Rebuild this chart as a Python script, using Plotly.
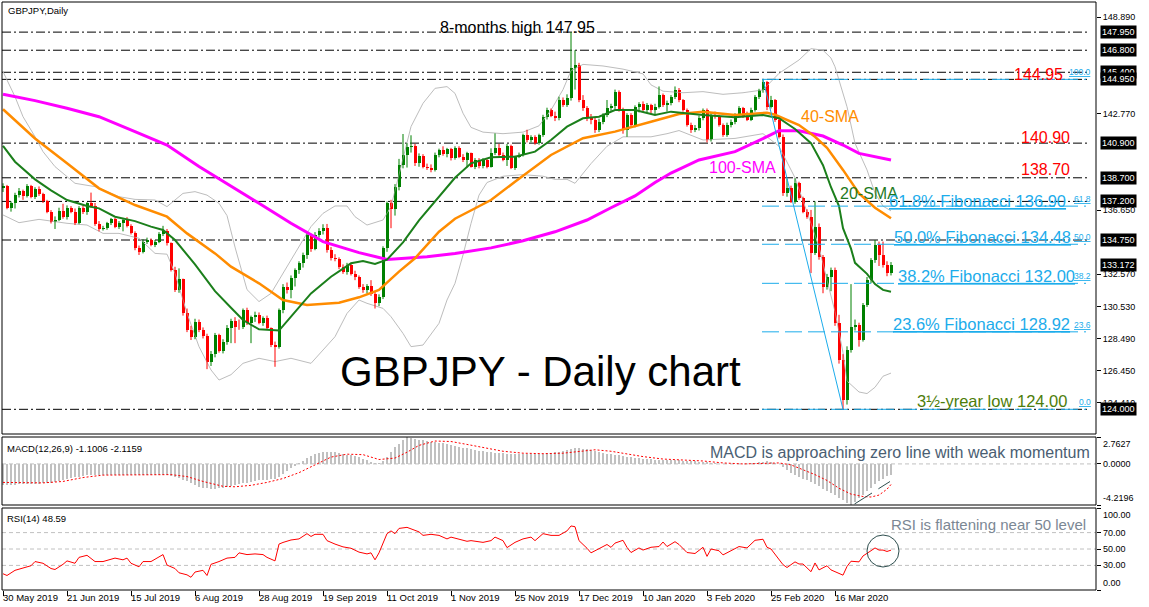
import plotly.graph_objects as go

W, H = 1149, 607
FONT = "Liberation Sans, Arial, sans-serif"

# ---------------- data ----------------
chart_title = "GBPJPY,Daily"
big_title = "GBPJPY - Daily chart"
date_labels = ["30 May 2019", "21 Jun 2019", "15 Jul 2019", "6 Aug 2019", "28 Aug 2019",
               "19 Sep 2019", "11 Oct 2019", "1 Nov 2019", "25 Nov 2019", "17 Dec 2019",
               "10 Jan 2020", "3 Feb 2020", "25 Feb 2020", "16 Mar 2020"]
date_label_bars = [0, 16, 32, 48, 64, 80, 96, 112, 128, 144, 160, 176, 192, 208]

opens = [
    138.05, 138.18, 136.76, 137.10, 137.60, 137.85, 137.55, 138.18, 137.50, 138.00,
    137.65, 137.20, 136.55, 135.90, 136.05, 136.60, 136.20, 136.76, 136.55, 135.85,
    136.76, 136.50, 137.08, 136.90, 135.77, 135.43, 135.50, 135.82, 136.06, 135.60,
    135.85, 136.00, 135.65, 135.18, 134.22, 134.00, 134.65, 134.75, 134.45, 134.65,
    135.13, 135.34, 134.54, 132.85, 131.58, 132.25, 130.09, 129.04, 128.60, 129.56,
    129.04, 128.65, 127.03, 127.50, 128.72, 127.70, 128.30, 129.14, 129.60, 129.25,
    129.20, 130.30, 129.46, 129.88, 130.00, 129.50, 129.78, 129.15, 128.08, 127.95,
    130.30, 131.79, 131.58, 132.32, 132.85, 133.27, 133.80, 135.07, 134.20, 135.07,
    135.30, 135.49, 134.10, 133.60, 133.55, 133.05, 132.74, 133.15, 132.62, 132.40,
    131.79, 131.55, 131.82, 131.30, 130.73, 131.15, 134.22, 137.08, 136.75, 138.14,
    139.51, 140.15, 140.63, 140.72, 139.62, 140.10, 139.40, 139.33, 139.22, 140.15,
    140.45, 140.20, 140.50, 139.95, 140.57, 140.04, 139.83, 140.25, 139.41, 139.85,
    139.45, 139.83, 139.41, 140.25, 140.57, 140.15, 139.83, 140.75, 139.30, 140.04,
    140.15, 141.42, 141.10, 141.30, 140.89, 141.42, 142.58, 143.00, 142.65, 142.48,
    143.64, 143.35, 143.75, 145.65, 145.86, 143.64, 143.11, 142.48, 142.40, 141.74,
    142.27, 142.69, 143.11, 143.25, 144.17, 143.05, 141.74, 142.69, 142.05, 143.22,
    143.40, 143.01, 143.32, 143.01, 143.22, 143.96, 143.32, 143.43, 143.85, 144.27,
    143.64, 143.01, 142.05, 141.74, 141.84, 142.48, 143.01, 141.10, 142.69, 142.60,
    142.05, 141.42, 142.05, 142.26, 142.69, 143.11, 142.60, 142.40, 143.01, 143.85,
    144.28, 144.80, 143.20, 143.64, 142.37, 141.32, 137.71, 138.03, 137.18, 138.35,
    137.40, 136.55, 136.23, 133.91, 135.60, 133.69, 131.79, 132.42, 132.85, 129.46,
    127.13, 124.59, 127.77, 129.24, 129.35, 128.40, 130.62, 132.20, 133.48, 134.43,
    133.80, 133.16, 132.63]
highs = [
    138.35, 138.25, 137.20, 137.75, 138.05, 137.95, 138.30, 138.25, 138.10, 138.15,
    137.75, 137.30, 136.65, 136.25, 136.80, 137.05, 136.95, 136.90, 136.75, 136.90,
    136.95, 137.15, 137.76, 137.10, 135.95, 135.65, 135.90, 136.15, 136.15, 135.95,
    136.15, 136.20, 135.75, 135.30, 134.40, 134.80, 134.90, 134.85, 134.75, 135.25,
    135.65, 135.45, 134.60, 133.05, 132.95, 132.30, 130.40, 129.30, 129.75, 129.70,
    129.20, 128.80, 127.70, 128.85, 128.80, 128.45, 129.35, 129.75, 129.85, 129.70,
    130.40, 130.45, 129.95, 130.20, 130.15, 129.90, 129.95, 129.20, 128.30, 130.40,
    131.95, 132.05, 132.50, 132.95, 133.40, 133.95, 135.20, 135.15, 135.25, 135.50,
    135.75, 135.77, 134.30, 133.85, 133.65, 133.20, 133.30, 133.25, 132.80, 132.50,
    131.95, 131.95, 132.20, 131.45, 131.30, 134.35, 137.20, 137.30, 138.30, 139.90,
    141.48, 140.90, 141.40, 140.85, 140.25, 140.20, 139.60, 139.55, 140.30, 140.55,
    140.70, 140.60, 140.60, 140.70, 140.70, 140.20, 140.35, 140.30, 139.95, 139.95,
    139.95, 139.90, 140.57, 141.52, 140.85, 140.30, 140.85, 140.80, 140.10, 140.30,
    141.50, 141.75, 141.40, 141.40, 141.50, 142.70, 143.15, 143.10, 142.90, 143.85,
    143.80, 144.00, 147.95, 146.80, 146.00, 143.95, 143.25, 142.75, 142.50, 142.45,
    142.80, 143.64, 143.40, 144.30, 144.25, 143.15, 142.80, 142.80, 143.30, 143.50,
    143.55, 143.45, 143.40, 143.40, 144.50, 144.05, 143.60, 143.95, 144.50, 144.40,
    143.70, 143.10, 142.20, 142.05, 142.65, 143.10, 143.10, 142.85, 142.90, 142.70,
    142.15, 142.20, 142.40, 142.80, 143.25, 143.20, 142.90, 143.15, 143.95, 144.35,
    144.95, 144.85, 143.90, 143.70, 142.50, 141.45, 138.65, 138.20, 138.67, 138.45,
    137.50, 136.70, 136.66, 137.20, 135.80, 133.80, 132.60, 133.00, 133.00, 130.00,
    127.50, 128.00, 131.95, 129.70, 129.50, 130.75, 132.40, 133.60, 134.75, 134.65,
    134.65, 133.40, 133.35]
lows = [
    137.80, 136.70, 136.55, 136.75, 137.45, 137.30, 137.45, 137.40, 137.35, 137.55,
    137.10, 136.45, 135.80, 135.45, 135.95, 136.10, 136.05, 136.45, 135.70, 135.75,
    136.40, 136.35, 136.80, 135.65, 135.30, 135.35, 135.40, 135.70, 135.50, 135.45,
    135.30, 135.55, 135.10, 134.10, 133.80, 133.90, 134.50, 134.35, 134.30, 134.55,
    135.00, 134.40, 132.75, 131.45, 131.40, 129.95, 128.90, 128.40, 128.45, 128.90,
    128.50, 126.55, 126.75, 127.30, 127.60, 127.55, 128.10, 128.20, 128.20, 129.05,
    129.10, 129.35, 128.20, 129.55, 129.40, 129.30, 129.05, 127.95, 126.70, 127.85,
    130.10, 131.35, 131.05, 131.80, 132.60, 133.00, 133.55, 134.00, 134.10, 134.90,
    135.10, 133.95, 133.45, 133.40, 132.90, 132.60, 132.55, 132.50, 132.20, 131.65,
    131.40, 131.35, 131.20, 130.40, 130.55, 131.00, 134.00, 135.50, 136.30, 137.90,
    139.30, 139.35, 140.30, 139.45, 139.40, 139.30, 139.20, 139.05, 139.10, 140.00,
    140.10, 140.00, 139.80, 139.85, 139.95, 139.70, 139.35, 139.35, 139.25, 139.30,
    139.30, 139.30, 139.35, 140.15, 140.05, 139.75, 139.45, 139.25, 139.20, 139.95,
    140.05, 140.95, 140.95, 140.80, 140.80, 141.30, 142.40, 142.55, 142.30, 142.35,
    143.20, 143.20, 143.60, 144.30, 143.50, 142.95, 142.30, 142.10, 141.55, 141.60,
    142.10, 142.55, 142.95, 143.05, 142.90, 141.50, 141.30, 141.95, 141.90, 142.85,
    142.90, 142.85, 142.80, 142.75, 143.10, 143.20, 142.90, 143.30, 143.70, 143.50,
    142.90, 141.95, 141.55, 141.60, 141.70, 142.35, 140.95, 141.00, 142.45, 141.95,
    141.30, 141.30, 141.90, 142.10, 142.55, 142.50, 142.30, 142.30, 142.90, 143.70,
    144.10, 143.00, 143.10, 142.25, 141.20, 137.55, 137.50, 137.10, 137.05, 137.30,
    136.45, 136.10, 132.65, 133.80, 133.50, 131.37, 131.60, 131.50, 129.30, 126.90,
    124.00, 124.30, 127.60, 129.00, 127.98, 128.30, 130.50, 132.00, 133.30, 133.10,
    133.00, 132.45, 132.50]
closes = [
    138.20, 136.76, 137.10, 137.60, 137.85, 137.55, 138.18, 137.50, 138.00, 137.65,
    137.20, 136.55, 135.90, 136.05, 136.60, 136.20, 136.76, 136.55, 135.85, 136.76,
    136.50, 137.08, 136.90, 135.77, 135.43, 135.50, 135.82, 136.06, 135.60, 135.85,
    136.00, 135.65, 135.18, 134.22, 134.00, 134.65, 134.75, 134.45, 134.65, 135.13,
    135.34, 134.54, 132.85, 131.58, 132.25, 130.09, 129.04, 128.60, 129.56, 129.04,
    128.65, 127.03, 127.50, 128.72, 127.70, 128.30, 129.14, 129.60, 129.25, 129.20,
    130.30, 129.46, 129.88, 130.00, 129.50, 129.78, 129.15, 128.08, 127.95, 130.30,
    131.79, 131.58, 132.32, 132.85, 133.27, 133.80, 135.07, 134.20, 135.07, 135.30,
    135.49, 134.10, 133.60, 133.55, 133.05, 132.74, 133.15, 132.62, 132.40, 131.79,
    131.55, 131.82, 131.30, 130.73, 131.15, 134.22, 137.08, 136.75, 138.14, 139.51,
    140.15, 140.63, 140.72, 139.62, 140.10, 139.40, 139.33, 139.22, 140.15, 140.45,
    140.20, 140.50, 139.95, 140.57, 140.04, 139.83, 140.25, 139.41, 139.85, 139.45,
    139.83, 139.41, 140.25, 140.57, 140.15, 139.83, 140.75, 139.30, 140.04, 140.15,
    141.42, 141.10, 141.30, 140.89, 141.42, 142.58, 143.00, 142.65, 142.48, 143.64,
    143.35, 143.75, 145.65, 145.86, 143.64, 143.11, 142.48, 142.40, 141.74, 142.27,
    142.69, 143.11, 143.25, 144.17, 143.05, 141.74, 142.69, 142.05, 143.22, 143.40,
    143.01, 143.32, 143.01, 143.22, 143.96, 143.32, 143.43, 143.85, 144.27, 143.64,
    143.01, 142.05, 141.74, 141.84, 142.48, 143.01, 141.10, 142.69, 142.60, 142.05,
    141.42, 142.05, 142.26, 142.69, 143.11, 142.60, 142.40, 143.01, 143.85, 144.28,
    144.80, 143.20, 143.64, 142.37, 141.32, 137.71, 138.03, 137.18, 138.35, 137.40,
    136.55, 136.23, 133.91, 135.60, 133.69, 131.79, 132.42, 132.85, 129.46, 127.13,
    124.59, 127.77, 129.24, 129.35, 128.40, 130.62, 132.20, 133.48, 134.43, 133.80,
    133.16, 132.63, 133.172]

sma20_bars = [0, 3, 8, 12, 16, 21, 24, 28, 33, 37, 40, 43, 48, 53, 57, 60, 64, 69, 72, 77, 82, 87,
              90, 93, 96, 100, 104, 109, 113, 117, 122, 128, 133, 137, 141, 145, 149, 153, 158,
              163, 167, 175, 183, 190, 194, 198, 202, 205, 207, 209, 210, 212, 213, 216, 218, 220, 222]
sma20 = [140.72, 139.72, 138.6, 137.9, 137.29, 136.91, 136.76, 136.23, 135.95, 135.6, 135.39,
         134.75, 133.2, 131.5, 130.45, 129.67, 129.08, 129.0, 129.88, 131.36, 132.42, 133.27,
         133.42, 133.23, 133.5, 134.6, 136.0, 137.5, 138.7, 139.62, 140.0, 140.04, 140.36, 141.1,
         141.95, 142.48, 142.58, 143.0, 143.0, 142.69, 142.9, 142.69, 142.54, 142.69, 142.48,
         141.8, 140.9, 139.5, 138.1, 136.9, 135.5, 134.2, 133.3, 132.6, 131.95, 131.58, 131.47]

sma40_bars = [0, 8, 16, 24, 33, 41, 46, 49, 53, 57, 64, 70, 76, 84, 89, 94, 99, 103, 109, 113,
              122, 128, 137, 145, 153, 162, 169, 175, 183, 191, 193, 199, 203, 206, 210, 214, 218, 222]
sma40 = [143.05, 141.2, 139.62, 138.03, 136.97, 136.23, 135.17, 134.65, 133.9, 133.06, 132.0,
         130.94, 130.62, 130.77, 131.11, 131.58, 132.74, 133.59, 135.28, 136.1, 137.29, 138.45,
         140.15, 141.21, 141.63, 142.26, 142.75, 142.9, 142.69, 142.83, 142.7, 142.05, 141.3,
         140.6, 139.2, 137.7, 136.8, 136.13]

sma100_bars = [0, 8, 16, 24, 33, 41, 49, 57, 64, 72, 80, 89, 96, 106, 113, 122, 130, 138, 146,
               152, 158, 163, 167, 174, 183, 191, 194, 199, 205, 210, 214, 222]
sma100 = [144.0, 143.6, 143.11, 142.58, 141.63, 140.78, 139.41, 138.18, 137.08, 135.81, 134.65,
          133.95, 133.52, 133.69, 133.9, 134.25, 134.7, 135.27, 136.02, 136.8, 137.55, 138.4,
          139.0, 139.83, 140.36, 141.31, 141.69, 141.69, 141.35, 140.78, 140.25, 139.83]

bb_upper_bars = [0, 3, 5, 8, 10, 13, 18, 23, 29, 33, 38, 41, 45, 48, 51, 54, 56, 58, 61, 64, 67,
                 72, 77, 80, 83, 86, 88, 91, 95, 97, 100, 102, 105, 108, 111, 113, 115, 117, 120,
                 125, 130, 134, 137, 140, 142, 145, 150, 155, 160, 162, 165, 170, 175, 180, 185,
                 190, 194, 197, 199, 202, 205, 207, 208, 211, 213, 216, 218, 220, 222]
bb_upper = [145.44, 143.85, 142.58, 141.31, 140.36, 139.41, 138.35, 138.14, 137.5, 137.33,
            137.29, 136.87, 137.71, 137.82, 137.6, 137.08, 136.3, 134.3, 131.6, 130.84, 131.36,
            133.48, 135.6, 136.44, 136.91, 136.91, 136.23, 135.7, 136.02, 136.87, 139.83, 141.95,
            143.43, 144.38, 144.49, 144.06, 142.8, 141.9, 141.6, 141.5, 141.6, 142.0, 143.0,
            144.3, 145.5, 145.9, 145.8, 145.6, 145.3, 144.6, 144.2, 144.1, 144.17, 144.0, 144.1,
            144.28, 145.33, 145.86, 146.18, 146.9, 146.8, 146.3, 145.75, 143.21, 140.89, 139.2,
            137.73, 136.9, 136.6]
bb_lower_bars = [0, 4, 9, 16, 21, 25, 29, 34, 38, 41, 43, 46, 49, 52, 54, 57, 60, 64, 68, 72, 77,
                 80, 83, 86, 89, 91, 95, 97, 100, 102, 105, 109, 111, 113, 115, 117, 119, 121,
                 125, 130, 135, 138, 141, 143, 147, 151, 155, 162, 166, 169, 175, 183, 190, 194,
                 198, 202, 204, 206, 208, 210, 211, 214, 216, 218, 220, 222]
bb_lower = [136.34, 135.85, 136.06, 135.81, 135.7, 135.17, 135.17, 134.86, 133.9, 133.85,
            132.63, 130.1, 127.98, 126.5, 125.86, 126.2, 126.92, 127.24, 127.03, 127.24, 126.92,
            127.77, 128.61, 130.09, 130.94, 130.73, 130.41, 129.88, 128.82, 127.98, 128.08,
            129.46, 130.94, 132.0, 133.8, 135.8, 137.6, 138.4, 138.8, 138.9, 138.8, 138.6, 138.6,
            138.35, 139.6, 140.7, 141.3, 141.3, 141.5, 141.7, 141.1, 141.2, 141.5, 140.7, 138.7,
            135.8, 134.3, 132.2, 130.2, 127.6, 125.8, 125.1, 125.0, 125.4, 126.1, 126.3]

macd_main = [
    -2.15, -2.15, -2.14, -2.12, -2.11, -2.10, -2.09, -2.07, -2.05, -2.02,
    -2.00, -1.96, -1.92, -1.86, -1.78, -1.70, -1.60, -1.48, -1.38, -1.30,
    -1.24, -1.18, -1.15, -1.14, -1.13, -1.12, -1.11, -1.10, -1.10, -1.10,
    -1.10, -1.10, -1.10, -1.11, -1.12, -1.12, -1.11, -1.10, -1.10, -1.10,
    -1.10, -1.14, -1.22, -1.35, -1.48, -1.62, -1.80, -1.98, -2.20, -2.35,
    -2.45, -2.52, -2.55, -2.54, -2.50, -2.44, -2.36, -2.28, -2.20, -2.10,
    -2.00, -1.92, -1.84, -1.76, -1.70, -1.66, -1.62, -1.60, -1.52, -1.30,
    -1.02, -0.74, -0.46, -0.20, 0.08, 0.34, 0.60, 0.82, 0.98, 1.10,
    1.20, 1.26, 1.24, 1.18, 1.10, 1.04, 0.96, 0.88, 0.78, 0.66,
    0.52, 0.38, 0.24, 0.12, 0.10, 0.30, 0.75, 1.25, 1.70, 2.05,
    2.45, 2.7627, 2.66, 2.56, 2.48, 2.42, 2.36, 2.30, 2.24, 2.18,
    2.10, 2.00, 1.92, 1.84, 1.76, 1.68, 1.60, 1.52, 1.44, 1.36,
    1.30, 1.24, 1.20, 1.16, 1.12, 1.08, 1.05, 1.02, 1.00, 0.99,
    0.98, 0.99, 1.00, 1.01, 1.03, 1.06, 1.10, 1.14, 1.18, 1.22,
    1.30, 1.42, 1.55, 1.65, 1.62, 1.56, 1.50, 1.42, 1.34, 1.24,
    1.14, 1.06, 0.98, 0.92, 0.88, 0.82, 0.76, 0.70, 0.64, 0.58,
    0.54, 0.50, 0.46, 0.44, 0.42, 0.41, 0.40, 0.39, 0.38, 0.36,
    0.34, 0.32, 0.30, 0.27, 0.24, 0.20, 0.15, 0.10, 0.06, 0.02,
    -0.02, -0.05, -0.06, -0.05, -0.03, -0.01, 0.02, 0.06, 0.12, 0.18,
    0.24, 0.26, 0.22, 0.12, -0.05, -0.35, -0.65, -0.90, -1.10, -1.30,
    -1.50, -1.68, -1.85, -2.05, -2.30, -2.55, -2.78, -3.00, -3.20, -3.45,
    -3.70, -4.00, -4.2196, -3.90, -3.50, -3.15, -2.80, -2.45, -2.10, -1.80,
    -1.50, -1.28, -1.1006]
macd_signal_bars = [0, 10, 15, 20, 25, 35, 42, 46, 50, 55, 58, 62, 66, 70, 74, 78, 82, 86, 90,
                    94, 98, 101, 104, 108, 112, 116, 120, 125, 130, 135, 140, 145, 148, 152, 156,
                    160, 165, 170, 175, 180, 185, 190, 194, 197, 200, 203, 206, 209, 212, 215,
                    217, 219, 221, 222]
macd_signal = [-1.9, -1.95, -1.8, -1.4, -1.15, -1.1, -1.1, -1.3, -1.8, -2.3, -2.35, -2.2, -1.9,
               -1.5, -0.9, -0.1, 0.7, 1.0, 0.95, 0.45, 0.6, 1.2, 1.9, 2.35, 2.3, 2.0, 1.7, 1.3,
               1.1, 1.05, 1.1, 1.35, 1.45, 1.3, 1.0, 0.75, 0.5, 0.4, 0.3, 0.1, 0.0, 0.05, 0.1,
               -0.1, -0.6, -1.1, -1.7, -2.5, -3.1, -3.35, -3.4, -3.2, -2.6, -2.1159]
macd_header = "MACD(12,26,9) -1.1006 -2.1159"
macd_ticks = [2.7627, 0.0, -4.2196]

rsi_bars = [0, 1, 3, 5, 7, 8, 10, 12, 13, 15, 16, 18, 19, 21, 23, 25, 27, 28, 30, 31, 32, 34, 35,
            37, 40, 41, 43, 44, 46, 47, 48, 50, 51, 52, 54, 56, 58, 59, 61, 63, 65, 66, 68, 69,
            70, 72, 74, 76, 77, 78, 80, 81, 83, 85, 87, 89, 91, 92, 93, 94, 96, 97, 98, 99, 101,
            103, 104, 105, 107, 109, 111, 112, 114, 116, 117, 120, 122, 123, 125, 126, 128, 130,
            132, 133, 135, 137, 139, 141, 142, 143, 144, 145, 146, 147, 149, 151, 152, 153, 155,
            156, 157, 159, 160, 162, 164, 165, 166, 168, 169, 171, 173, 175, 176, 177, 179, 180,
            182, 184, 186, 188, 190, 191, 192, 193, 195, 196, 198, 199, 200, 202, 203, 204, 206,
            207, 210, 211, 212, 214, 215, 217, 218, 219, 220, 221, 222]
rsi = [19.8, 17.7, 24, 27, 29.6, 34.7, 32.6, 26.2, 25, 31.3, 35.5, 32.6, 39.8, 42.3, 34.7, 34.7,
       38.1, 38.9, 36.8, 38.9, 32.6, 28.3, 34.7, 34.7, 43.2, 30.4, 26.2, 21, 18.5, 15.5, 21.9, 24,
       17.7, 31.3, 34.7, 38.9, 39.8, 45.3, 43.2, 44, 43.2, 39.8, 35.5, 56, 58, 61, 62.3, 68.7,
       65.3, 67.9, 67.9, 60.2, 56, 52.6, 50.9, 46.2, 44, 45.3, 36.8, 45.3, 68.7, 72.1, 68.7,
       75.1, 76.4, 72.1, 70.9, 66.6, 67.9, 66.6, 62.3, 64.5, 62.3, 59.4, 60.2, 58.1, 60.2, 64.5,
       60.2, 51.7, 58.1, 62.3, 64.5, 60.2, 68.7, 66.6, 66.6, 72.1, 78.1, 77.2, 60.2, 56, 50.9,
       45.3, 50, 55.5, 52, 57.2, 60.6, 52, 45.7, 51.3, 48.7, 52.1, 53, 58.5, 53, 58.9, 55.5,
       45.7, 44.5, 52.1, 41, 50, 47.9, 42.8, 47.9, 53, 51.3, 60.6, 61.9, 52.1, 50, 43.6, 30.9,
       27.4, 34.3, 31.7, 31.7, 22.3, 33, 24.5, 29.6, 24.5, 18.1, 28.7, 35.1, 34.3, 41.5, 47.9,
       51.3, 48.7, 48.7, 47, 48.59]
rsi_header = "RSI(14) 48.59"
rsi_levels = [70, 50, 30]
rsi_ticks = [100, 70, 50, 30, 0]

price_ticks = [148.89, 142.77, 136.65, 132.57, 130.53, 128.49, 126.45, 124.41]
level_lines = [147.95, 146.80, 145.40, 144.95, 140.90, 138.70, 137.20, 134.75, 124.00]
boxed_prices = [147.95, 146.80, 145.40, 144.95, 140.90, 138.70, 137.20, 134.75, 133.172, 124.00]

fib_high, fib_low = 144.95, 124.00
fib_high_bar, fib_low_bar = 190, 210
fib_levels = [144.95, 136.90, 134.48, 132.00, 128.92, 124.00]
fib_pcts = ["100.0", "61.8", "50.0", "38.2", "23.6", "0.0"]

# ---------------- geometry (pixels of the 1149x607 page) ----------------
PLOT_L, PLOT_R = 2, 1096
MAIN_T, MAIN_B = 2, 434
MACD_T, MACD_B = 437, 505
RSI_T, RSI_B = 508, 590
BAR_X0, BAR_DX = 3, 4              # pixel of bar 0, pixels per bar
P_REF, Y_REF, PX_PER_UNIT = 148.89, 17.3, 15.75


def px(x):
    return x / W


def py(y):
    return 1 - y / H


def price_at(ypix):
    return P_REF - (ypix - Y_REF) / PX_PER_UNIT


def bar_at(xpix):
    return (xpix - BAR_X0) / BAR_DX


BULL, BEAR = "#008000", "#FF0000"
FIB = "#1CACEB"
GRAY = "#BDBDBD"

fig = go.Figure()
n = len(closes)
bars = list(range(n))
up = [c >= o for o, c in zip(opens, closes)]

# Bollinger bands
fig.add_trace(go.Scatter(x=bb_upper_bars, y=bb_upper, mode="lines",
                         line=dict(color=GRAY, width=1), xaxis="x", yaxis="y"))
fig.add_trace(go.Scatter(x=bb_lower_bars, y=bb_lower, mode="lines",
                         line=dict(color=GRAY, width=1), xaxis="x", yaxis="y"))

# candle wicks
for sel, col in ((True, BULL), (False, BEAR)):
    xs, ys = [], []
    for i in bars:
        if up[i] == sel:
            xs += [i, i, None]
            ys += [lows[i], highs[i], None]
    fig.add_trace(go.Scatter(x=xs, y=ys, mode="lines", line=dict(color=col, width=1),
                             xaxis="x", yaxis="y"))

# candle bodies
fig.add_trace(go.Bar(
    x=bars,
    base=[min(o, c) for o, c in zip(opens, closes)],
    y=[max(abs(c - o), 0.04) for o, c in zip(opens, closes)],
    width=0.75,
    marker=dict(color=[BULL if u else BEAR for u in up], line=dict(width=0)),
    xaxis="x", yaxis="y"))

# moving averages
fig.add_trace(go.Scatter(x=sma100_bars, y=sma100, mode="lines",
                         line=dict(color="#FF00FF", width=3), xaxis="x", yaxis="y"))
fig.add_trace(go.Scatter(x=sma40_bars, y=sma40, mode="lines",
                         line=dict(color="#FF8C00", width=2.5), xaxis="x", yaxis="y"))
fig.add_trace(go.Scatter(x=sma20_bars, y=sma20, mode="lines",
                         line=dict(color="#1B7F1B", width=2), xaxis="x", yaxis="y"))

# fibonacci swing line
fig.add_trace(go.Scatter(x=[fib_high_bar, fib_low_bar], y=[fib_high, fib_low], mode="lines",
                         line=dict(color=FIB, width=1), xaxis="x", yaxis="y"))

# MACD
fig.add_trace(go.Bar(x=bars, y=macd_main, width=0.5,
                     marker=dict(color="#C0C0C0", line=dict(width=0)),
                     xaxis="x2", yaxis="y2"))
fig.add_trace(go.Scatter(x=macd_signal_bars, y=macd_signal, mode="lines",
                         line=dict(color="#FF0000", width=1, dash="2px,2px"),
                         xaxis="x2", yaxis="y2"))

# RSI
fig.add_trace(go.Scatter(x=rsi_bars, y=rsi, mode="lines",
                         line=dict(color="#FF0000", width=1), xaxis="x3", yaxis="y3"))

# ---------------- axes ----------------
xrange_ = [bar_at(PLOT_L), bar_at(PLOT_R)]
common_x = dict(domain=[px(PLOT_L), px(PLOT_R)], range=xrange_, showgrid=False,
                zeroline=False, showline=False, showticklabels=False, ticks="")
tickfont = dict(family=FONT, size=9, color="black")
common_y = dict(side="right", showgrid=False, zeroline=False, showline=False,
                ticks="outside", ticklen=4, tickcolor="black", tickfont=tickfont)

fig.update_layout(
    width=W, height=H, margin=dict(l=0, r=0, t=0, b=0),
    paper_bgcolor="white", plot_bgcolor="white", showlegend=False,
    bargap=0, barmode="overlay", hovermode=False,
    xaxis=dict(common_x, anchor="y"),
    xaxis2=dict(common_x, anchor="y2"),
    xaxis3=dict(common_x, anchor="y3", ticks="outside", ticklen=5, tickcolor="black",
                tickvals=date_label_bars),
    yaxis=dict(common_y, anchor="x", domain=[py(MAIN_B), py(MAIN_T)],
               range=[price_at(MAIN_B), price_at(MAIN_T)],
               tickvals=price_ticks, ticktext=[f"{v:.3f}" for v in price_ticks]),
    yaxis2=dict(common_y, anchor="x2", domain=[py(MACD_B), py(MACD_T)],
                range=[min(macd_main), max(macd_main)], tickvals=macd_ticks,
                showticklabels=False),
    yaxis3=dict(common_y, anchor="x3", domain=[py(RSI_B), py(RSI_T)], range=[0, 100],
                tickvals=rsi_ticks, showticklabels=False),
)

shapes = []
# panel frames
for top, bot in ((MAIN_T, MAIN_B), (MACD_T, MACD_B), (RSI_T, RSI_B)):
    shapes.append(dict(type="rect", xref="paper", yref="paper", x0=px(PLOT_L), x1=px(PLOT_R),
                       y0=py(bot), y1=py(top), line=dict(color="black", width=1)))
# horizontal key levels
for lv in level_lines:
    shapes.append(dict(type="line", xref="x", yref="y", x0=xrange_[0], x1=bar_at(1090),
                       y0=lv, y1=lv, line=dict(color="black", width=1, dash="9px,3px,2px,3px"),
                       layer="below"))
# fibonacci levels
for lv in fib_levels:
    shapes.append(dict(type="line", xref="x", yref="y", x0=fib_high_bar - 0.25, x1=bar_at(1086),
                       y0=lv, y1=lv, line=dict(color=FIB, width=1, dash="17px,6px")))
# MACD zero line
shapes.append(dict(type="line", xref="x2", yref="y2", x0=xrange_[0], x1=xrange_[1], y0=0, y1=0,
                   line=dict(color="#C0C0C0", width=1, dash="4px,3px"), layer="below"))
# RSI levels
for lv in rsi_levels:
    shapes.append(dict(type="line", xref="x3", yref="y3", x0=xrange_[0], x1=xrange_[1],
                       y0=lv, y1=lv, line=dict(color="#C0C0C0", width=1, dash="4px,3px"),
                       layer="below"))
# drawn divergence lines in MACD and circle in RSI
for (x0, y0, x1, y1) in ((854.5, 504, 872, 493), (878.4, 488.8, 890, 481.5)):
    shapes.append(dict(type="line", xref="paper", yref="paper", x0=px(x0), y0=py(y0),
                       x1=px(x1), y1=py(y1), line=dict(color="#2F4F4F", width=1)))
shapes.append(dict(type="circle", xref="paper", yref="paper", x0=px(867), x1=px(899),
                   y0=py(567), y1=py(535), line=dict(color="#2F4F4F", width=1)))
fig.update_layout(shapes=shapes)

ann = []


def text(t, x, y, size, color, xanchor="left", yanchor="middle", **kw):
    ann.append(dict(text=t, x=px(x), y=py(y), xref="paper", yref="paper", showarrow=False,
                    xanchor=xanchor, yanchor=yanchor,
                    font=dict(family=FONT, size=size, color=color), **kw))


# headers
text(chart_title, 6, 10, 9.5, "black")
text(macd_header, 5, 448, 9.5, "black")
text(rsi_header, 5, 518, 9.5, "black")

# date labels
for b, lab in zip(date_label_bars, date_labels):
    ann.append(dict(text=lab, x=b, y=py(597), xref="x3", yref="paper", showarrow=False,
                    xanchor="left", yanchor="middle", xshift=-2,
                    font=dict(family=FONT, size=9.5, color="black")))

# boxed price labels on the right
for v in boxed_prices:
    ann.append(dict(text=f"{v:.3f}", x=px(1100), y=v, xref="paper", yref="y",
                    showarrow=False, xanchor="left", yanchor="middle", bgcolor="black",
                    borderpad=1, font=dict(family=FONT, size=9, color="white")))

# MACD / RSI scale labels
for v, lab, yanc in ((macd_ticks[0], "2.7627", "top"), (macd_ticks[1], "0.0000", "middle"),
                     (macd_ticks[2], "-4.2196", "bottom")):
    ann.append(dict(text=lab, x=px(1101), y=v, xref="paper", yref="y2", showarrow=False,
                    xanchor="left", yanchor=yanc, font=tickfont))
for v in rsi_ticks:
    yanc = "top" if v == 100 else ("bottom" if v == 0 else "middle")
    ann.append(dict(text=f"{v:.2f}", x=px(1101), y=v, xref="paper", yref="y3", showarrow=False,
                    xanchor="left", yanchor=yanc, font=tickfont))

# chart commentary
text("8-months high 147.95", 438, 27, 16, "black")
text("144.95", 1012, 74, 16, "#FF0000")
text("140.90", 1019, 137, 16, "#FF0000")
text("138.70", 1019, 169, 16, "#FF0000")
text("40-SMA", 799, 116, 16, "#FF8C00")
text("100-SMA", 707, 168, 16, "#FF00FF")
text("20-SMA", 838, 194, 16, "#1F7A1F")
for lv, pct, xr, yc in ((136.90, "61.8%", 1068, 201), (134.48, "50.0%", 1073, 237),
                        (132.00, "38.2%", 1077, 276), (128.92, "23.6%", 1072, 324)):
    text(f"<u>{pct} Fibonacci {lv:.2f}</u>", xr, yc, 16.5, FIB, xanchor="right")
for lv, pct in zip(fib_levels, fib_pcts):
    ann.append(dict(text=f"<u>{pct}</u>", x=px(1093), y=lv, xref="paper", yref="y",
                    showarrow=False, xanchor="right", yanchor="bottom",
                    font=dict(family=FONT, size=8.5, color=FIB)))
text("3½-yrear low 124.00", 1069, 401, 16.5, "#4E7D0A", xanchor="right")
text(big_title, 540, 371, 42, "black", xanchor="center")
text("MACD is approaching zero line with weak momentum", 1092, 452, 16, "#4A5E72",
     xanchor="right")
text("RSI is flattening near 50 level", 1088, 524, 15, "#7B8794", xanchor="right")

fig.update_layout(annotations=ann)
fig.write_html("out.html", config={"displayModeBar": False, "staticPlot": True},
               post_script="document.body.style.margin='0px';document.body.style.overflow='hidden';")
